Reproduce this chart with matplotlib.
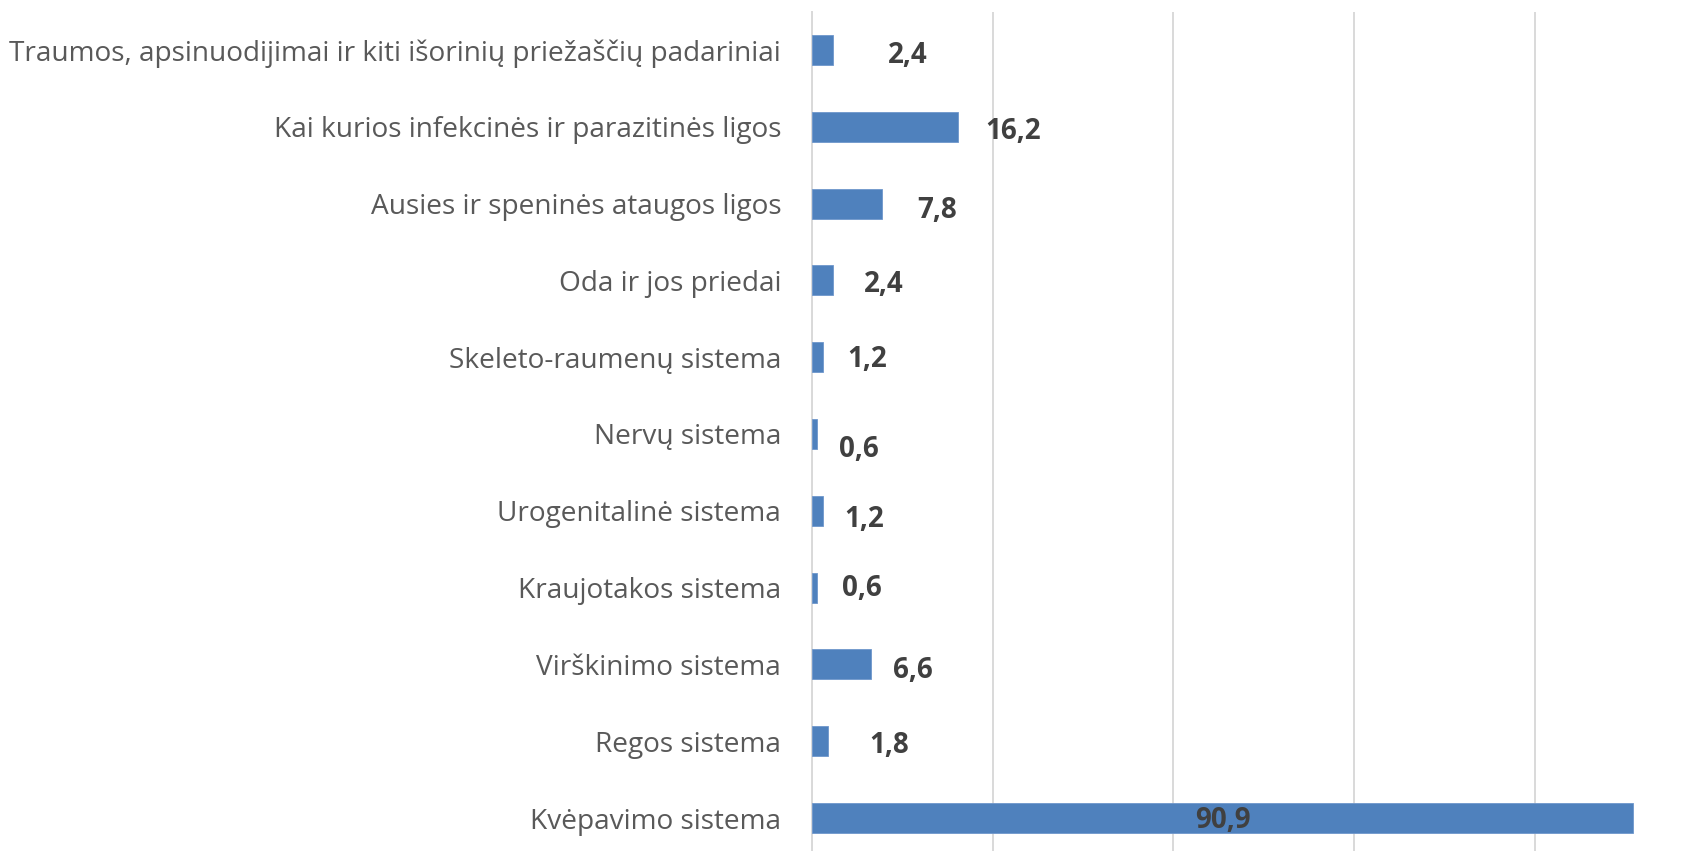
import matplotlib
matplotlib.use("Agg")
import matplotlib.pyplot as plt

categories = [
    "Traumos, apsinuodijimai ir kiti išorinių priežaščių padariniai",
    "Kai kurios infekcinės ir parazitinės ligos",
    "Ausies ir speninės ataugos ligos",
    "Oda ir jos priedai",
    "Skeleto-raumenų sistema",
    "Nervų sistema",
    "Urogenitalinė sistema",
    "Kraujotakos sistema",
    "Virškinimo sistema",
    "Regos sistema",
    "Kvėpavimo sistema",
]
values = [2.4, 16.2, 7.8, 2.4, 1.2, 0.6, 1.2, 0.6, 6.6, 1.8, 90.9]
value_labels = ["2,4", "16,2", "7,8", "2,4", "1,2", "0,6", "1,2", "0,6", "6,6", "1,8", "90,9"]
# label offsets (pixels) from bar end: dx to label centre, dy downward
label_dx = [74, 55, 55, 50, 45, 42, 42, 45, 42, 61, None]
label_dy = [3, 2, 4, 2, 0, 13, 6, -2, 4, 2, 0]

W, H = 1702, 851
fig = plt.figure(figsize=(W / 100, H / 100), dpi=100)
ax = fig.add_axes([811.7 / W, 1 - 856.4 / H, 904 / W, (856.4 - 11.6) / H])

n = len(categories)
ypos = [n - 1 - i for i in range(n)]
ax.barh(ypos, values, height=0.39, color="#4F81BD", edgecolor="#6F97CC",
        linewidth=0.6, zorder=3)
ax.set_xlim(0, 100)
ax.set_ylim(-0.5, n - 0.5)
ax.set_xticks([0, 20, 40, 60, 80, 100])
ax.set_xticklabels([])
ax.tick_params(axis="x", length=0)
ax.grid(axis="x", color="#D9D9D9", linewidth=1.4, zorder=0)
ax.set_yticks(ypos)
ax.set_yticklabels(categories, family="Open Sans", fontsize=20.2, color="#595959")
ax.tick_params(axis="y", length=0, pad=22)
for s in ["top", "right", "bottom"]:
    ax.spines[s].set_visible(False)
ax.spines["left"].set_color("#D9D9D9")
ax.spines["left"].set_linewidth(1.4)
ax.spines["left"].set_zorder(1)

px = 72 / 100
for i, (v, lab) in enumerate(zip(values, value_labels)):
    y = ypos[i]
    if label_dx[i] is None:
        x0, dx = v / 2, 0
    else:
        x0, dx = v, label_dx[i]
    ax.annotate(lab, (x0, y), xytext=(dx * px, -(label_dy[i] + 10) * px),
                textcoords="offset points", ha="center", va="baseline",
                family="Open Sans", fontweight="bold", fontsize=20,
                color="#404040", zorder=5)

fig.savefig("out.png", dpi=100)
